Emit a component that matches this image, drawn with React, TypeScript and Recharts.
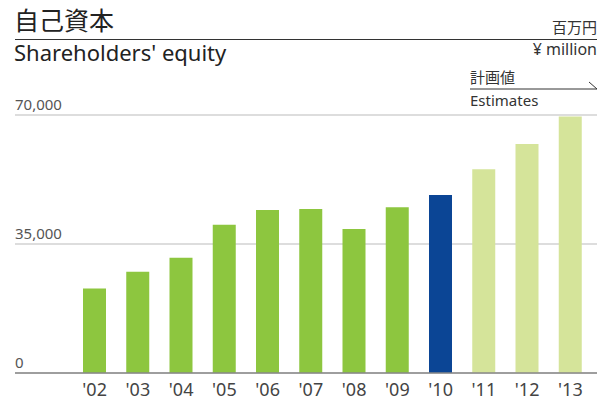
import { BarChart, Bar, XAxis, YAxis, CartesianGrid, Cell } from 'recharts';

const years = ["'02", "'03", "'04", "'05", "'06", "'07", "'08", "'09", "'10", "'11", "'12", "'13"];
const equity = [22900, 27500, 31300, 40200, 44200, 44500, 39100, 45000, 48300, 55300, 62100, 69600];
const barColors = ['#8dc63f', '#8dc63f', '#8dc63f', '#8dc63f', '#8dc63f', '#8dc63f', '#8dc63f', '#8dc63f', '#0b4595', '#d5e49a', '#d5e49a', '#d5e49a'];
const yTicks = [0, 35000, 70000];

const data = years.map((y, i) => ({ year: y, value: equity[i] }));

const font = '"Noto Sans", "Noto Sans CJK JP", sans-serif';

const renderYTick = (props: any) => {
  const { y, payload } = props;
  return (
    <text x={15} y={y - 5} fontSize={15} fill="#555" fontFamily={font} textAnchor="start">
      {Number(payload.value).toLocaleString('en-US')}
    </text>
  );
};

// baseline sits at 373; label baseline ~396
const renderXTick = (props: any) => {
  const { x, payload } = props;
  return (
    <text x={x} y={396} fontSize={18} fill="#444" fontFamily={font} textAnchor="middle">
      {payload.value}
    </text>
  );
};

export default function App() {
  return (
    <div style={{ position: 'absolute', left: 0, top: 0, width: 610, height: 401, background: '#fff', fontFamily: font, color: '#333' }}>
      <div style={{ position: 'absolute', left: 14, top: 4, fontSize: 25, lineHeight: '32px', color: '#222' }}>自己資本</div>
      <div style={{ position: 'absolute', left: 15, top: 39, width: 582, height: 0, borderTop: '1.5px solid #333' }} />
      <div style={{ position: 'absolute', left: 14, top: 37, fontSize: 22, lineHeight: '30px', color: '#222' }}>Shareholders' equity</div>
      <div style={{ position: 'absolute', right: 13, top: 17, fontSize: 15, lineHeight: '20px' }}>百万円</div>
      <div style={{ position: 'absolute', right: 13, top: 38, fontSize: 16, lineHeight: '22px' }}>¥ million</div>
      <div style={{ position: 'absolute', left: 470, top: 66, fontSize: 15, lineHeight: '22px' }}>計画値</div>
      <svg style={{ position: 'absolute', left: 0, top: 0 }} width={610} height={401}>
        <line x1={470} y1={89} x2={597} y2={89} stroke="#333" strokeWidth={1} />
        <line x1={589} y1={82} x2={597} y2={89} stroke="#333" strokeWidth={1} />
      </svg>
      <div style={{ position: 'absolute', left: 470, top: 89, fontSize: 15, lineHeight: '22px' }}>Estimates</div>
      <div style={{ position: 'absolute', left: 0, top: 0 }}>
        <BarChart width={610} height={401} data={data} margin={{ top: 115, right: 13, bottom: 27, left: 14 }}>
          <CartesianGrid vertical={false} stroke="#bbb" strokeWidth={1.2} />
          <YAxis width={1} domain={[0, 70000]} ticks={yTicks} interval={0} axisLine={false} tickLine={false} tick={renderYTick} />
          <XAxis dataKey="year" height={1} axisLine={{ stroke: '#888', strokeWidth: 1.5 }} tickLine={false} tick={renderXTick} padding={{ left: 58, right: 5 }} interval={0} />
          <Bar dataKey="value" barSize={23} isAnimationActive={false}>
            {data.map((d, i) => (
              <Cell key={d.year} fill={barColors[i]} />
            ))}
          </Bar>
        </BarChart>
      </div>
    </div>
  );
}
